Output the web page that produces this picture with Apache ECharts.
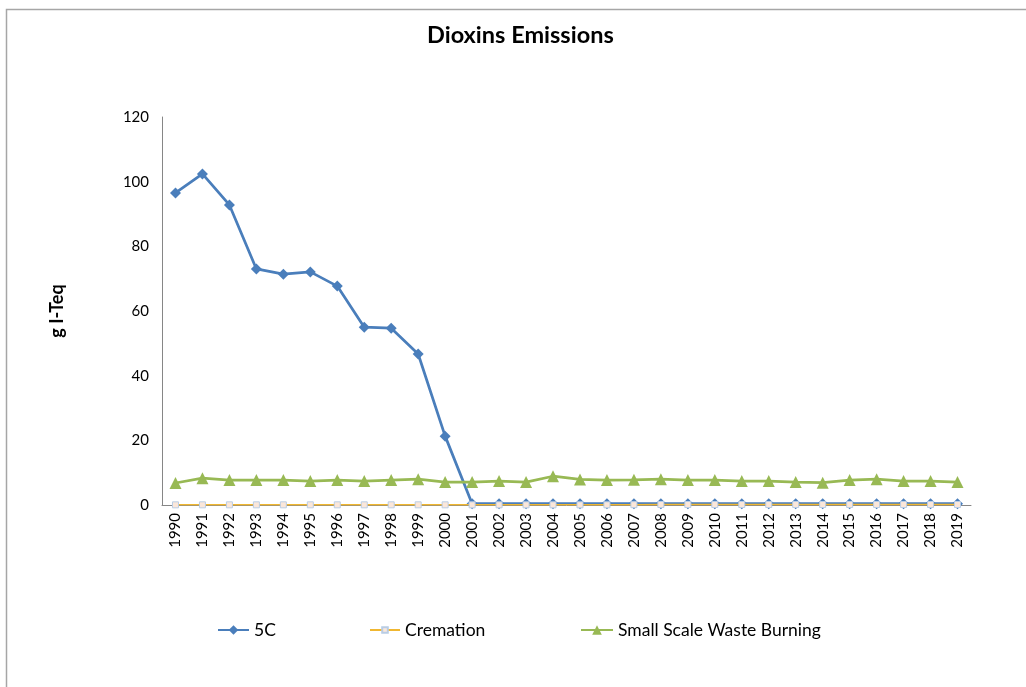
<!DOCTYPE html>
<html>
<head>
<meta charset="utf-8">
<script src="https://cdn.jsdelivr.net/npm/echarts@6/dist/echarts.min.js"></script>
<style>
html,body{margin:0;padding:0;background:#fff;}
#chart{width:1026px;height:687px;}
</style>
</head>
<body>
<div id="chart"></div>
<script>
const years = ['1990','1991','1992','1993','1994','1995','1996','1997','1998','1999','2000','2001','2002','2003','2004','2005','2006','2007','2008','2009','2010','2011','2012','2013','2014','2015','2016','2017','2018','2019'];
const series5C = [96.5,102.4,92.8,73.0,71.4,72.1,67.7,55.0,54.7,46.7,21.3,0.4,0.4,0.4,0.4,0.4,0.4,0.4,0.4,0.4,0.4,0.4,0.4,0.4,0.4,0.4,0.4,0.4,0.4,0.4];
const cremation = [0.05,0.05,0.05,0.05,0.05,0.05,0.05,0.05,0.05,0.05,0.05,0.05,0.05,0.05,0.05,0.05,0.05,0.1,0.15,0.15,0.15,0.15,0.15,0.15,0.15,0.15,0.15,0.15,0.15,0.15];
const wasteBurning = [6.8,8.3,7.7,7.7,7.7,7.4,7.7,7.4,7.7,8.0,7.1,7.1,7.4,7.1,8.9,7.9,7.7,7.8,8.0,7.7,7.7,7.4,7.4,7.1,6.9,7.7,8.0,7.4,7.4,7.1];
const yTicks = {min:0, max:120, interval:20};

const FONT = 'Lato, "Open Sans", sans-serif';
const chart = echarts.init(document.getElementById('chart'), null, {renderer:'canvas'});
const legendText = {fontFamily: FONT, fontSize: 17.5, color: '#000'};
chart.setOption({
  backgroundColor: '#fff',
  animation: false,
  title: {
    text: 'Dioxins Emissions',
    left: 427,
    top: 23,
    padding: 0,
    textStyle: {fontFamily: FONT, fontSize: 23.5, fontWeight: 'bold', color: '#000'}
  },
  graphic: [{
    type: 'rect',
    shape: {x: 6.5, y: 9.5, width: 1040, height: 700},
    style: {fill: null, stroke: '#a6a6a6', lineWidth: 1.5},
    silent: true, z: -1
  }],
  legend: [
    {data: ['5C'], left: 217, top: 621, padding: 0, itemWidth: 31, itemHeight: 12, textStyle: legendText},
    {data: ['Cremation'], left: 369, top: 621, padding: 0, itemWidth: 30, itemHeight: 7, textStyle: legendText},
    {data: ['Small Scale Waste Burning'], left: 580, top: 621, padding: 0, itemWidth: 32, itemHeight: 12, textStyle: legendText}
  ],
  grid: {left: 162, right: 55, top: 117, bottom: 182, containLabel: false},
  xAxis: {
    type: 'category',
    data: years,
    boundaryGap: true,
    axisLine: {lineStyle: {color: '#868686', width: 1}},
    axisTick: {show: false},
    axisLabel: {rotate: 90, fontFamily: FONT, fontSize: 15, color: '#000', margin: 8, interval: 0}
  },
  yAxis: {
    type: 'value',
    min: yTicks.min, max: yTicks.max, interval: yTicks.interval,
    name: 'g I-Teq',
    nameLocation: 'middle',
    nameGap: 96,
    nameRotate: 90,
    nameTextStyle: {fontFamily: FONT, fontSize: 18, fontWeight: 'bold', color: '#000'},
    axisLine: {show: true, lineStyle: {color: '#868686', width: 1}},
    axisTick: {show: false},
    splitLine: {show: false},
    axisLabel: {fontFamily: FONT, fontSize: 15, color: '#000', margin: 13}
  },
  series: [
    {
      name: '5C', type: 'line', data: series5C,
      symbol: 'diamond', symbolSize: 11,
      lineStyle: {color: '#4a7ebb', width: 2.75},
      itemStyle: {color: '#4a7ebb'},
      z: 2
    },
    {
      name: 'Cremation', type: 'line', data: cremation,
      symbol: 'rect', symbolSize: 6,
      lineStyle: {color: '#f0b731', width: 1.5},
      itemStyle: {color: '#fbe7da', borderColor: '#b9cde5', borderWidth: 1},
      z: 3
    },
    {
      name: 'Small Scale Waste Burning', type: 'line', data: wasteBurning,
      symbol: 'triangle', symbolSize: 12,
      lineStyle: {color: '#98b954', width: 2.75},
      itemStyle: {color: '#98b954'},
      z: 4
    }
  ]
});
</script>
</body>
</html>
